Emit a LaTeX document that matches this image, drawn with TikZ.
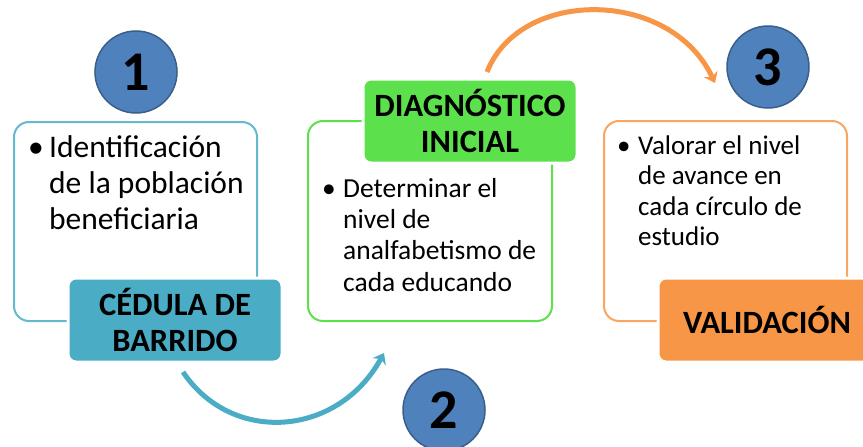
\documentclass[tikz,border=0pt]{standalone}
\usepackage{fontspec}
\setmainfont{Carlito}
\usepackage{xcolor}
\usepackage{tikz}
\usetikzlibrary{arrows.meta}

\definecolor{numblue}{HTML}{4F81BD}
\definecolor{numedge}{HTML}{3A5F8B}
\definecolor{tealc}{HTML}{4BACC6}
\definecolor{greenc}{HTML}{5CE04B}
\definecolor{orangec}{HTML}{F79646}

\begin{document}
\begin{tikzpicture}[x=1pt,y=-1pt]
\tikzstyle{every node}+=[inner sep=0pt]
\tikzstyle{box}=[draw, line width=2pt, rounded corners=15pt, fill=white]
\tikzstyle{tag}=[draw=white, line width=3pt, rounded corners=8pt, align=center,
  font=\fontsize{32.5}{36}\selectfont\bfseries]
\tikzstyle{num}=[circle, draw=numedge, line width=1.5pt, fill=numblue,
  minimum size=82pt, font=\fontsize{56}{56}\selectfont\bfseries]
\tikzstyle{flow}=[line width=5pt, -{Stealth[length=10pt,width=15pt]}]
\useasboundingbox (0,0) rectangle (863,447);
% numbers
\node [num] (n1) at (136,72) {1};
\node [num] (n2) at (444,410) {2};
\node [num] (n3) at (768,67) {3};
% boxes
\node [box, draw=tealc!85, minimum width=243pt, minimum height=199pt] (b1) at (135.5,221.5) {};
\node [box, draw=greenc, minimum width=244pt, minimum height=200pt] (b2) at (430,221) {};
\node [box, draw=orangec!85, minimum width=243pt, minimum height=200pt] (b3) at (725.5,221) {};
% texts
\node [anchor=north west, font=\fontsize{31.5}{36}\selectfont] (t1) at (28,132)
  {\begin{tabular}{@{}p{21pt}@{}l@{}}\textbullet & Identificación\\ & de la población\\ & beneficiaria\end{tabular}};
\node [anchor=north west, font=\fontsize{27.5}{31.3}\selectfont] (t2) at (322,175)
  {\begin{tabular}{@{}p{21pt}@{}l@{}}\textbullet & Determinar el\\ & nivel de\\ & analfabetismo de\\ & cada educando\end{tabular}};
\node [anchor=north west, font=\fontsize{27}{30.3}\selectfont] (t3) at (617,133)
  {\begin{tabular}{@{}p{21pt}@{}l@{}}\textbullet & Valorar el nivel\\ & de avance en\\ & cada círculo de\\ & estudio\end{tabular}};
% tags
\node [tag, fill=tealc, minimum width=214pt, minimum height=84pt] (c1) at (175,320) {CÉDULA DE\\BARRIDO};
\node [tag, fill=greenc, minimum width=214pt, minimum height=84pt] (c2) at (470,121) {DIAGNÓSTICO\\INICIAL};
\node [tag, fill=orangec, minimum width=218pt, minimum height=84pt] (c3) at (767,320) {VALIDACIÓN};
% arrows
\coordinate (a1) at (183,372);
\coordinate (a2) at (384,353);
\coordinate (a3) at (487,72);
\coordinate (a4) at (715,83);
\draw [flow, tealc] (a1) .. controls (232,445) and (338,437) .. (a2);
\draw [flow, orangec] (a3) .. controls (520,-12) and (670,-12) .. (a4);
\end{tikzpicture}
\end{document}
